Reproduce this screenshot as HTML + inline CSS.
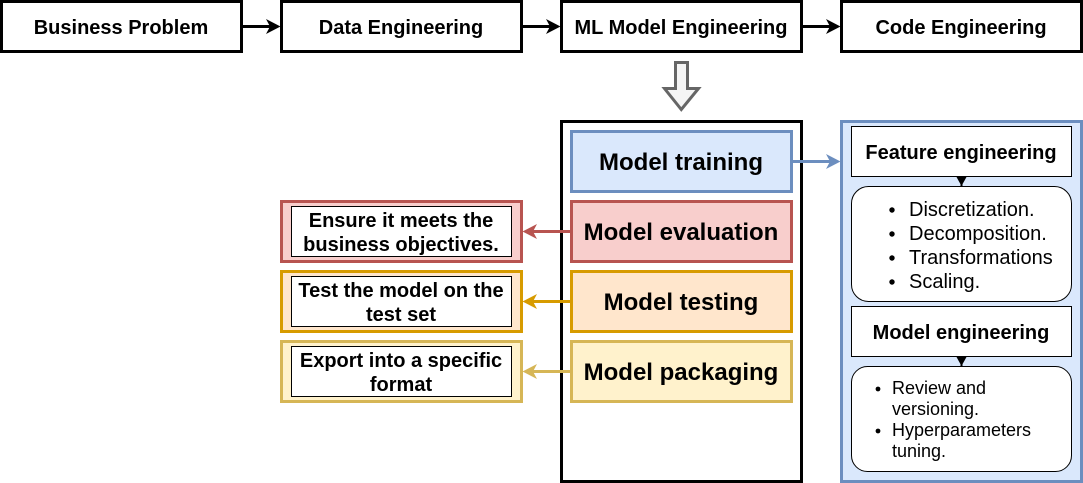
<!DOCTYPE html>
<html><head><meta charset="utf-8"><style>
html,body{margin:0;padding:0;background:#fff;width:1083px;height:483px;overflow:hidden}
svg{display:block}
text{font-family:"Liberation Sans",sans-serif;fill:#000}
.b{font-weight:bold;text-anchor:middle}
.t20{font-size:20px}.t24{font-size:24px}.t18{font-size:18px}
</style></head><body>
<svg width="1083" height="483" viewBox="0 0 1083 483" xmlns="http://www.w3.org/2000/svg">
<rect width="1083" height="483" fill="#fff"/>
<g fill="#fff" stroke="#000" stroke-width="3">
<rect x="1.500" y="1.500" width="240" height="50"/>
<rect x="281.500" y="1.500" width="240" height="50"/>
<rect x="561.500" y="1.500" width="240" height="50"/>
<rect x="841.500" y="1.500" width="240" height="50"/>
<rect x="561.500" y="121.500" width="240" height="360"/>
</g>
<text class="b t20" x="121" y="34">Business Problem</text>
<text class="b t20" x="401" y="34">Data Engineering</text>
<text class="b t20" x="681" y="34">ML Model Engineering</text>
<text class="b t20" x="961" y="34">Code Engineering</text>

<g stroke="#000" stroke-width="3" fill="none">
<path d="M243 26.500H270"/>
<path d="M523 26.500H550"/>
<path d="M803 26.500H830"/>
</g>
<g fill="#000">
<path d="M280.500 26.500L266 19L270 26.500L266 34Z"/>
<path d="M560.500 26.500L546 19L550 26.500L546 34Z"/>
<path d="M840.500 26.500L826 19L830 26.500L826 34Z"/>
</g>

<polygon points="675.500,62.500 687.500,62.500 687.500,88.500 698.500,88.500 681.300,109.500 664.500,88.500 675.500,88.500" fill="#f5f5f5" stroke="#666" stroke-width="3"/>

<rect x="841.500" y="121.500" width="240" height="360" fill="#dae8fc" stroke="#6c8ebf" stroke-width="3"/>
<rect x="571.500" y="131.500" width="220" height="60" fill="#dae8fc" stroke="#6c8ebf" stroke-width="3"/>
<rect x="571.500" y="201.500" width="220" height="60" fill="#f8cecc" stroke="#b85450" stroke-width="3"/>
<rect x="571.500" y="271.500" width="220" height="60" fill="#ffe6cc" stroke="#d79b00" stroke-width="3"/>
<rect x="571.500" y="341.500" width="220" height="60" fill="#fff2cc" stroke="#d6b656" stroke-width="3"/>
<text class="b t24" x="681" y="170">Model training</text>
<text class="b t24" x="681" y="240">Model evaluation</text>
<text class="b t24" x="681" y="310">Model testing</text>
<text class="b t24" x="681" y="380">Model packaging</text>

<rect x="281.500" y="201.500" width="240" height="60" fill="#f8cecc" stroke="#b85450" stroke-width="3"/>
<rect x="281.500" y="271.500" width="240" height="60" fill="#ffe6cc" stroke="#d79b00" stroke-width="3"/>
<rect x="281.500" y="341.500" width="240" height="60" fill="#fff2cc" stroke="#d6b656" stroke-width="3"/>
<g fill="#fff" stroke="#000" stroke-width="1">
<rect x="291.500" y="206.500" width="220" height="50"/>
<rect x="291.500" y="276.500" width="220" height="50"/>
<rect x="291.500" y="346.500" width="220" height="50"/>
<rect x="851.500" y="126.500" width="220" height="50"/>
<rect x="851.500" y="306.500" width="220" height="50"/>
<rect x="851.500" y="186.500" width="220" height="115" rx="17" ry="17"/>
<rect x="851.500" y="366.500" width="220" height="105" rx="16" ry="16"/>
</g>
<text class="b t20" x="401" y="227">Ensure it meets the</text>
<text class="b t20" x="401" y="251">business objectives.</text>
<text class="b t20" x="401" y="297">Test the model on the</text>
<text class="b t20" x="401" y="321">test set</text>
<text class="b t20" x="401" y="367">Export into a specific</text>
<text class="b t20" x="401" y="391">format</text>

<g stroke-width="3" fill="none">
<path d="M793 161.500H830" stroke="#6c8ebf"/>
<path d="M570 231.500H533" stroke="#b85450"/>
<path d="M570 301.500H533" stroke="#d79b00"/>
<path d="M570 371.500H533" stroke="#d6b656"/>
</g>
<path d="M840.500 161.500L826 154L830 161.500L826 169Z" fill="#6c8ebf"/>
<path d="M522.500 231.500L537 224L533 231.500L537 239Z" fill="#b85450"/>
<path d="M522.500 301.500L537 294L533 301.500L537 309Z" fill="#d79b00"/>
<path d="M522.500 371.500L537 364L533 371.500L537 379Z" fill="#d6b656"/>

<path d="M961.500 177V186" stroke="#000" stroke-width="2" fill="none"/>
<path d="M956.500 177H966.500L961.500 186Z" fill="#000"/>
<path d="M961.500 357V366" stroke="#000" stroke-width="2" fill="none"/>
<path d="M956.500 357H966.500L961.500 366Z" fill="#000"/>

<text class="b t20" x="961" y="159">Feature engineering</text>
<text class="b t20" x="961" y="339">Model engineering</text>

<g fill="#000">
<circle cx="892" cy="210" r="2.700"/><circle cx="892" cy="234" r="2.700"/><circle cx="892" cy="258" r="2.700"/><circle cx="892" cy="282" r="2.700"/>
<circle cx="878" cy="389" r="2.400"/><circle cx="878" cy="431" r="2.400"/>
</g>
<text class="t20" x="909" y="216">Discretization.</text>
<text class="t20" x="909" y="240">Decomposition.</text>
<text class="t20" x="909" y="264">Transformations</text>
<text class="t20" x="909" y="288">Scaling.</text>
<text class="t18" x="892" y="394">Review and</text>
<text class="t18" x="892" y="415">versioning.</text>
<text class="t18" x="892" y="436">Hyperparameters</text>
<text class="t18" x="892" y="457">tuning.</text>
</svg>
</body></html>
